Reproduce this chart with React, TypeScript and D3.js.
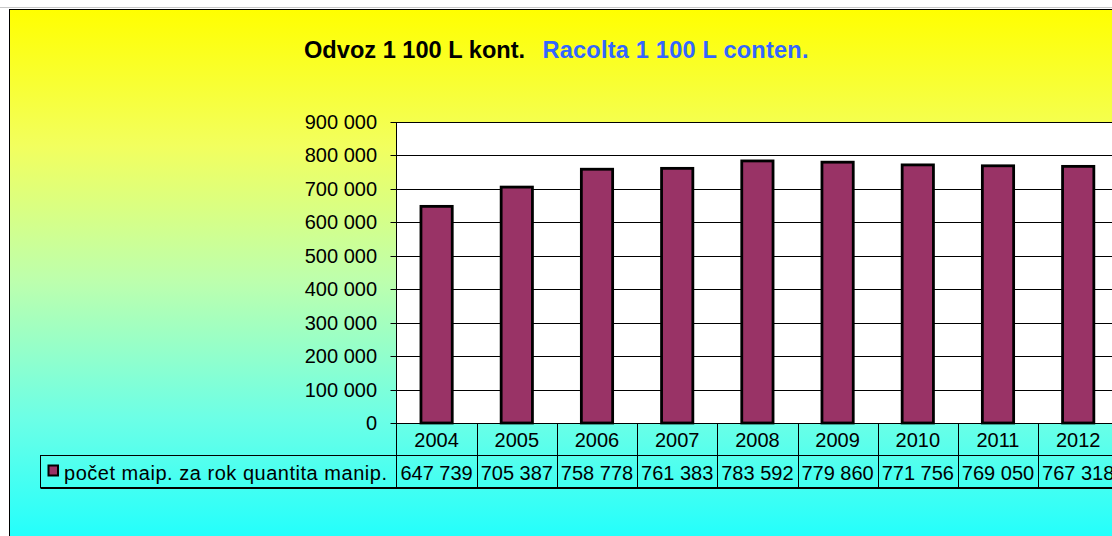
import React from "react";
import * as d3 from "d3";

const years = ["2004", "2005", "2006", "2007", "2008", "2009", "2010", "2011", "2012"];
const values = [647739, 705387, 758778, 761383, 783592, 779860, 771756, 769050, 767318];
const yTicks = [0, 100000, 200000, 300000, 400000, 500000, 600000, 700000, 800000, 900000];
const titleBlack = "Odvoz 1 100 L kont.";
const titleBlue = "Racolta 1 100 L conten.";
const seriesName = "počet maip. za rok quantita manip.";

const W = 1112;
const H = 536;
const plotLeft = 396.5;
const plotTop = 122;
const plotBottom = 423;
const bandW = 80.2;
const row1Bottom = 455;
const row2Bottom = 488;
const legendLeft = 40.5;
const font = "'Liberation Sans', Arial, sans-serif";
const barColor = "#993366";

const fmt = (v: number) => d3.format(",")(v).replace(/,/g, " ");

export default function App() {
  const x = d3
    .scaleBand<string>()
    .domain(years)
    .range([plotLeft, plotLeft + bandW * years.length])
    .padding(0);
  const y = d3.scaleLinear().domain([0, 900000]).range([plotBottom, plotTop]);
  const barW = x.bandwidth() * 0.39;
  const right = W + 20;

  return (
    <div style={{ position: "fixed", left: 0, top: 0, width: W, height: H, overflow: "hidden", background: "#fff" }}>
      <svg width={W} height={H} style={{ display: "block" }}>
        <defs>
          <linearGradient id="bg" x1="0" y1="0" x2="0" y2="1">
            <stop offset="0" stopColor="#ffff00" />
            <stop offset="0.25" stopColor="#f2ff5e" />
            <stop offset="0.5" stopColor="#bcffae" />
            <stop offset="0.75" stopColor="#6cffe6" />
            <stop offset="1" stopColor="#18ffff" />
          </linearGradient>
        </defs>
        <line x1={0} x2={W} y1={7.5} y2={7.5} stroke="#c8c8c8" strokeWidth={1} />
        <rect x={9.5} y={9.5} width={W + 10} height={H + 10} fill="url(#bg)" stroke="#000" strokeWidth={1} />

        {/* title */}
        <text x={304} y={57.5} fontFamily={font} fontWeight="bold" fontSize={23.6} fill="#000">
          {titleBlack}
        </text>
        <text x={542.5} y={57.5} fontFamily={font} fontWeight="bold" fontSize={23.6} fill="#3366ff" textLength={266} lengthAdjust="spacing">
          {titleBlue}
        </text>

        {/* plot area */}
        <rect x={plotLeft} y={plotTop} width={right - plotLeft} height={plotBottom - plotTop} fill="#fff" />
        {yTicks.map((t) => (
          <g key={t}>
            <line x1={plotLeft} x2={right} y1={Math.round(y(t)) + 0.5} y2={Math.round(y(t)) + 0.5} stroke="#000" strokeWidth={1} />
            <line x1={plotLeft - 6} x2={plotLeft} y1={Math.round(y(t)) + 0.5} y2={Math.round(y(t)) + 0.5} stroke="#000" strokeWidth={1} />
            <text x={377} y={y(t) + 7} textAnchor="end" fontFamily={font} fontSize={20} fill="#000">
              {fmt(t)}
            </text>
          </g>
        ))}
        <line x1={plotLeft} x2={plotLeft} y1={plotTop} y2={row2Bottom} stroke="#000" strokeWidth={1} />

        {/* bars */}
        {years.map((yr, i) => {
          const cx = (x(yr) as number) + x.bandwidth() / 2;
          return (
            <rect
              key={yr}
              x={cx - barW / 2}
              y={y(values[i])}
              width={barW}
              height={plotBottom - y(values[i])}
              fill={barColor}
              stroke="#000"
              strokeWidth={2.8}
            />
          );
        })}

        {/* data table */}
        <line x1={legendLeft} x2={right} y1={row1Bottom + 0.5} y2={row1Bottom + 0.5} stroke="#000" strokeWidth={1} />
        <line x1={legendLeft} x2={right} y1={row2Bottom} y2={row2Bottom} stroke="#000" strokeWidth={2} />
        <line x1={legendLeft} x2={legendLeft} y1={row1Bottom} y2={row2Bottom} stroke="#000" strokeWidth={1} />
        {years.map((yr) => {
          const bx = Math.round((x(yr) as number) + x.bandwidth()) + 0.5;
          return <line key={"v" + yr} x1={bx} x2={bx} y1={plotBottom} y2={row2Bottom} stroke="#000" strokeWidth={1} />;
        })}
        {years.map((yr, i) => {
          const cx = (x(yr) as number) + x.bandwidth() / 2;
          return (
            <g key={"t" + yr}>
              <text x={cx} y={446.5} textAnchor="middle" fontFamily={font} fontSize={20} fill="#000">
                {yr}
              </text>
              <text x={cx} y={480} textAnchor="middle" fontFamily={font} fontSize={20} fill="#000">
                {fmt(values[i])}
              </text>
            </g>
          );
        })}

        {/* legend key */}
        <rect x={48.5} y={465.5} width={9.5} height={10} fill={barColor} stroke="#000" strokeWidth={2} />
        <text x={64} y={480} fontFamily={font} fontSize={20} fill="#000" textLength={323} lengthAdjust="spacing">
          {seriesName}
        </text>
      </svg>
    </div>
  );
}
